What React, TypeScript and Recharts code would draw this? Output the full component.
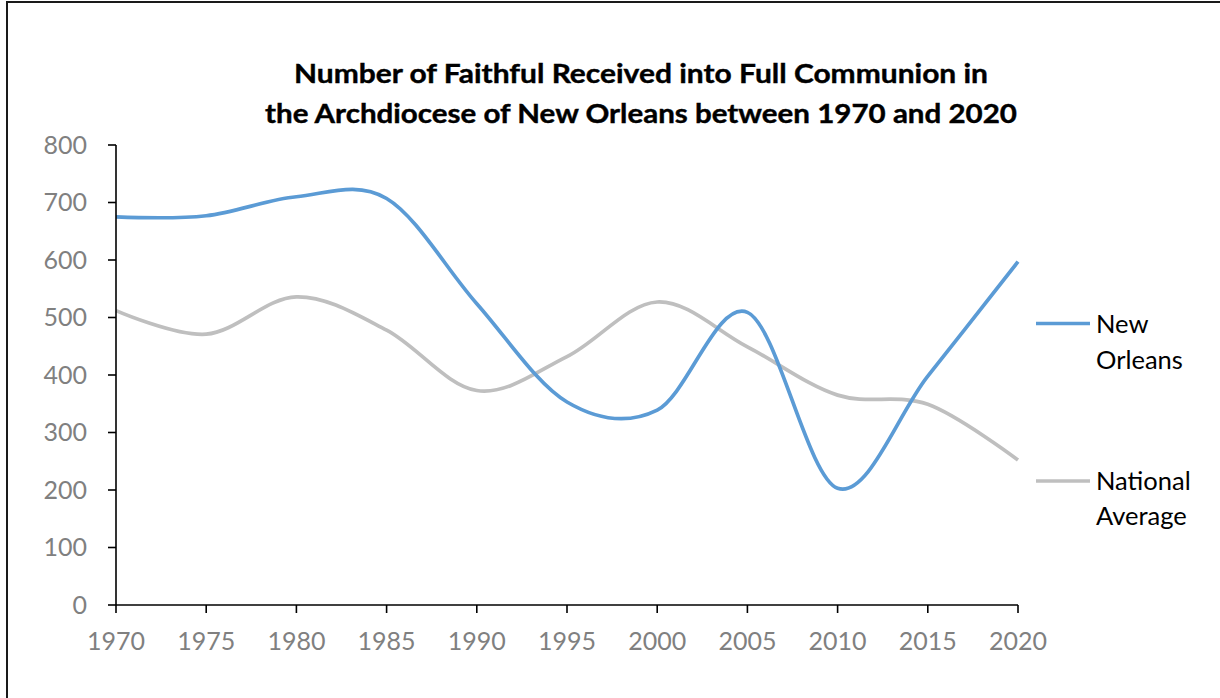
import React from "react";
import { LineChart, Line, XAxis, YAxis } from "recharts";

const years = [1970, 1975, 1980, 1985, 1990, 1995, 2000, 2005, 2010, 2015, 2020];
const newOrleans = [675, 677, 710, 707, 524, 353, 339, 509, 203, 398, 597];
const nationalAverage = [512, 471, 536, 478, 373, 432, 527, 449, 365, 349, 252];
const yTicks = [0, 100, 200, 300, 400, 500, 600, 700, 800];
const titleLines = [
  "Number of Faithful Received into Full Communion in",
  "the Archdiocese of New Orleans between 1970 and 2020",
];

const data = years.map((y, i) => ({
  year: String(y),
  newOrleans: newOrleans[i],
  national: nationalAverage[i],
}));

// Catmull-Rom style smoothing (like Excel's smoothed line)
function makeCurve(context: any) {
  const k = 1 / 6;
  const s: any = {
    _context: context,
    _line: NaN as number,
    _point: 0,
    _x0: NaN, _x1: NaN, _x2: NaN, _y0: NaN, _y1: NaN, _y2: NaN,
  };
  const seg = (x: number, y: number) => {
    s._context.bezierCurveTo(
      s._x1 + k * (s._x2 - s._x0),
      s._y1 + k * (s._y2 - s._y0),
      s._x2 + k * (s._x1 - x),
      s._y2 + k * (s._y1 - y),
      s._x2,
      s._y2
    );
  };
  return {
    areaStart() { s._line = 0; },
    areaEnd() { s._line = NaN; },
    lineStart() {
      s._x0 = s._x1 = s._x2 = s._y0 = s._y1 = s._y2 = NaN;
      s._point = 0;
    },
    lineEnd() {
      switch (s._point) {
        case 2: s._context.lineTo(s._x2, s._y2); break;
        case 3: seg(s._x1, s._y1); break;
      }
      if (s._line || (s._line !== 0 && s._point === 1)) s._context.closePath();
      s._line = 1 - s._line;
    },
    point(x: number, y: number) {
      x = +x; y = +y;
      switch (s._point) {
        case 0:
          s._point = 1;
          s._line ? s._context.lineTo(x, y) : s._context.moveTo(x, y);
          break;
        case 1:
          s._point = 2; s._x1 = x; s._y1 = y;
          break;
        case 2:
          s._point = 3;
          seg(x, y);
          break;
        default:
          seg(x, y);
          break;
      }
      s._x0 = s._x1; s._x1 = s._x2; s._x2 = x;
      s._y0 = s._y1; s._y1 = s._y2; s._y2 = y;
    },
  };
}

const FONT = "Lato, 'Open Sans', sans-serif";
const BLUE = "#5B9BD5";
const GRAY = "#BFBFBF";

export default function App() {
  return (
    <div
      style={{
        position: "absolute",
        left: 0,
        top: 0,
        width: 1220,
        height: 698,
        overflow: "hidden",
        background: "#fff",
        fontFamily: FONT,
      }}
    >
      <div
        style={{
          position: "absolute",
          left: 6,
          top: 1,
          width: 1400,
          height: 900,
          border: "2px solid #1a1a1a",
        }}
      />
      <div style={{ position: "absolute", left: 0, top: 0 }}>
        <LineChart
          width={1220}
          height={698}
          data={data}
          margin={{ top: 145, right: 202, bottom: 33, left: 46 }}
        >
          <XAxis
            dataKey="year"
            height={60}
            interval={0}
            tickSize={8}
            tickMargin={19}
            axisLine={{ stroke: "#000", strokeWidth: 1.6 }}
            tickLine={{ stroke: "#000", strokeWidth: 1.6 }}
            tick={{ fill: "#808080", fontSize: 25, fontFamily: FONT }}
          />
          <YAxis
            width={70}
            domain={[0, 800]}
            ticks={yTicks}
            interval={0}
            tickSize={8}
            tickMargin={21}
            axisLine={{ stroke: "#000", strokeWidth: 1.6 }}
            tickLine={{ stroke: "#000", strokeWidth: 1.6 }}
            tick={{ fill: "#808080", fontSize: 25, fontFamily: FONT }}
          />
          <Line
            dataKey="national"
            type={makeCurve as any}
            stroke={GRAY}
            strokeWidth={3.7}
            dot={false}
            activeDot={false}
            isAnimationActive={false}
          />
          <Line
            dataKey="newOrleans"
            type={makeCurve as any}
            stroke={BLUE}
            strokeWidth={3.7}
            dot={false}
            activeDot={false}
            isAnimationActive={false}
          />
        </LineChart>
      </div>
      <svg
        width={1220}
        height={698}
        style={{ position: "absolute", left: 0, top: 0, pointerEvents: "none" }}
      >
        <text x={641} y={83} textAnchor="middle" fontFamily={FONT} fontWeight="bold" fontSize={26.5} fill="#000" stroke="#000" strokeWidth={0.4} textLength={694} lengthAdjust="spacingAndGlyphs">
          {titleLines[0]}
        </text>
        <text x={641} y={122.5} textAnchor="middle" fontFamily={FONT} fontWeight="bold" fontSize={26.5} fill="#000" stroke="#000" strokeWidth={0.4} textLength={752} lengthAdjust="spacingAndGlyphs">
          {titleLines[1]}
        </text>
        <line x1={1036} y1={323.5} x2={1090} y2={323.5} stroke={BLUE} strokeWidth={3.5} />
        <text x={1096} y={333} fontFamily={FONT} fontSize={25.5} fill="#000">New</text>
        <text x={1096} y={369} fontFamily={FONT} fontSize={25.5} fill="#000">Orleans</text>
        <line x1={1036} y1={481} x2={1090} y2={481} stroke={GRAY} strokeWidth={3.5} />
        <text x={1096} y={490} fontFamily={FONT} fontSize={25.5} fill="#000">National</text>
        <text x={1096} y={525} fontFamily={FONT} fontSize={25.5} fill="#000">Average</text>
      </svg>
    </div>
  );
}
